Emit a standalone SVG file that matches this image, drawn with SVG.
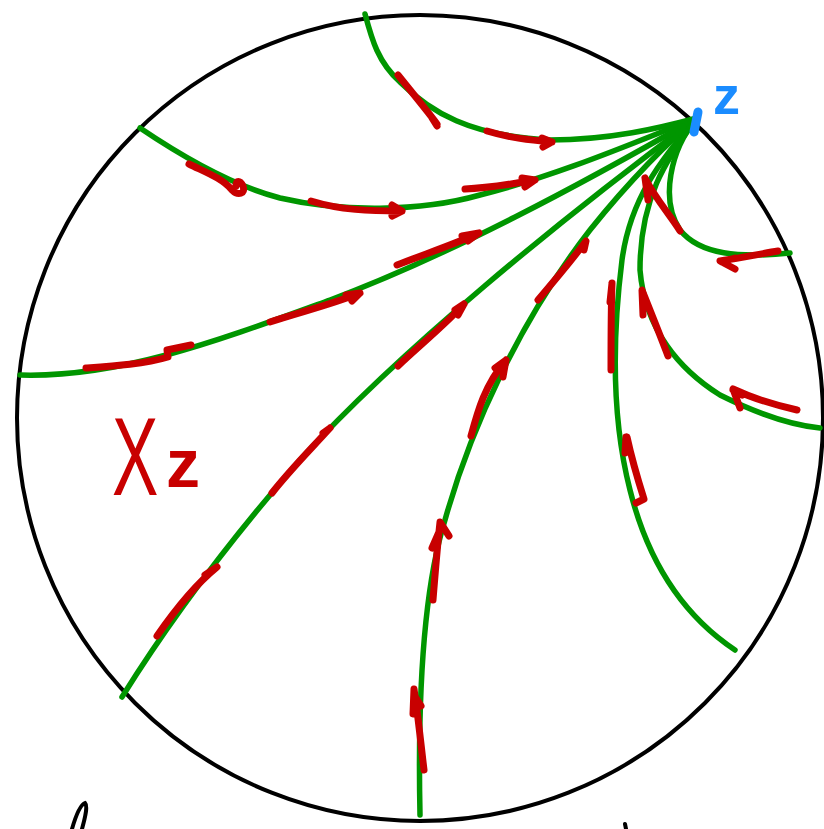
<svg xmlns="http://www.w3.org/2000/svg" width="824" height="829" viewBox="0 0 824 829">
<style>
.g{fill:none;stroke:#009600;stroke-width:5.5;stroke-linecap:round;stroke-linejoin:round}
.r{fill:none;stroke:#c80000;stroke-width:7;stroke-linecap:round;stroke-linejoin:round}
.k{fill:none;stroke:#000;stroke-width:4;stroke-linecap:round}
.lbl{font-family:"Liberation Sans",sans-serif;fill:#c80000}
</style>
<rect width="824" height="829" fill="#fff"/>
<g id="disk"><circle cx="420" cy="418" r="403" class="k"/></g>
<g id="connectors">
<path id="cA" class="g" d="M365,14 C372,40 378,62 400,82 C430,112 470,136 550,140 C610,140 660,128 697,118"/>
<path id="cB" class="g" d="M140,128 C180,155 230,185 280,198 C340,212 420,212 480,195 C560,175 640,140 697,118"/>
<path id="cC" class="g" d="M20,375 C120,378 220,340 330,300 C450,255 580,185 697,118"/>
<path id="cD" class="g" d="M122,697 C170,620 230,540 300,460 C400,350 560,220 697,118"/>
<path id="cE" class="g" d="M420,815 C418,720 420,600 445,520 C470,430 520,320 590,230 C630,180 670,140 697,118"/>
<path id="cF" class="g" d="M697,118 C660,160 630,200 622,260 C612,340 612,420 630,490 C650,570 690,620 735,650"/>
<path id="cG" class="g" d="M697,118 C665,160 640,200 640,270 C645,330 680,370 720,395 C760,415 790,425 820,428"/>
<path id="cH" class="g" d="M697,118 C670,150 660,200 680,230 C700,255 740,258 790,253"/>
</g>
<g id="flow-arrows">
<path class="r" d="M398,75 C410,90 425,108 437,124 M432,118 L437,126"/>
<path class="r" d="M487,131 C510,138 530,140 552,142 M542,138 L552,142 L543,147"/>
<path class="r" d="M189,164 C205,172 222,178 232,190 C238,196 246,194 243,186 C240,180 236,180 236,186"/>
<path class="r" d="M311,201 C340,210 370,211 402,211 M392,205 L402,211 L392,216"/>
<path class="r" d="M465,189 C490,188 512,184 535,180 M522,178 L535,180 L525,187"/>
<path class="r" d="M86,368 C115,366 145,364 168,357 L167,350 L191,345"/>
<path class="r" d="M270,322 C300,312 330,305 360,293 M346,295 L360,293 L352,301"/>
<path class="r" d="M397,265 C425,254 455,244 479,233 M462,236 L479,233 L468,241"/>
<path class="r" d="M157,636 C175,610 195,585 217,567 M205,575 L217,567"/>
<path class="r" d="M272,493 C290,470 310,450 330,428 M323,433 L330,428"/>
<path class="r" d="M398,366 C420,345 445,325 464,304 M455,310 L464,304 L458,315"/>
<path class="r" d="M538,300 C555,280 572,260 586,241 L584,250"/>
<path class="r" d="M471,436 C478,410 485,385 506,360 L503,377 M495,368 L506,360"/>
<path class="r" d="M433,600 C435,575 437,550 440,522 L449,536 M439,532 L432,548"/>
<path class="r" d="M424,770 C421,745 418,715 414,689 L413,714 M414,695 L421,706"/>
<path class="r" d="M611,370 C611,340 611,310 612,283 L610,302"/>
<path class="r" d="M626,437 L625,453 M627,437 C632,460 638,480 644,499 L636,503"/>
<path class="r" d="M668,356 C660,335 650,310 642,290 L643,315"/>
<path class="r" d="M797,410 C775,405 752,398 733,389 L740,408 M733,390 L742,395"/>
<path class="r" d="M645,178 C655,198 670,215 680,231 M645,178 L648,200"/>
<path class="r" d="M778,251 C760,254 740,258 720,261 L735,269 M722,262 L735,258"/>
</g>
<g id="z-point">
<path d="M698,112 L694,132" fill="none" stroke="#1a8cff" stroke-width="9" stroke-linecap="round"/>
<text x="713" y="114" font-family="Liberation Sans, sans-serif" font-size="54" font-weight="bold" fill="#1a8cff">z</text>
</g>
<g id="label-Xz">
<text class="lbl" transform="translate(112,495) scale(0.62,1)" font-size="112">X</text>
<text class="lbl" x="166" y="487" font-size="68" font-weight="bold">z</text>
</g>
<g id="fragments">
<path class="k" d="M72,829 C76,815 80,805 85,803 C88,806 85,818 82,829"/>
<path class="k" d="M625,824 L626,829"/>
</g>
</svg>
